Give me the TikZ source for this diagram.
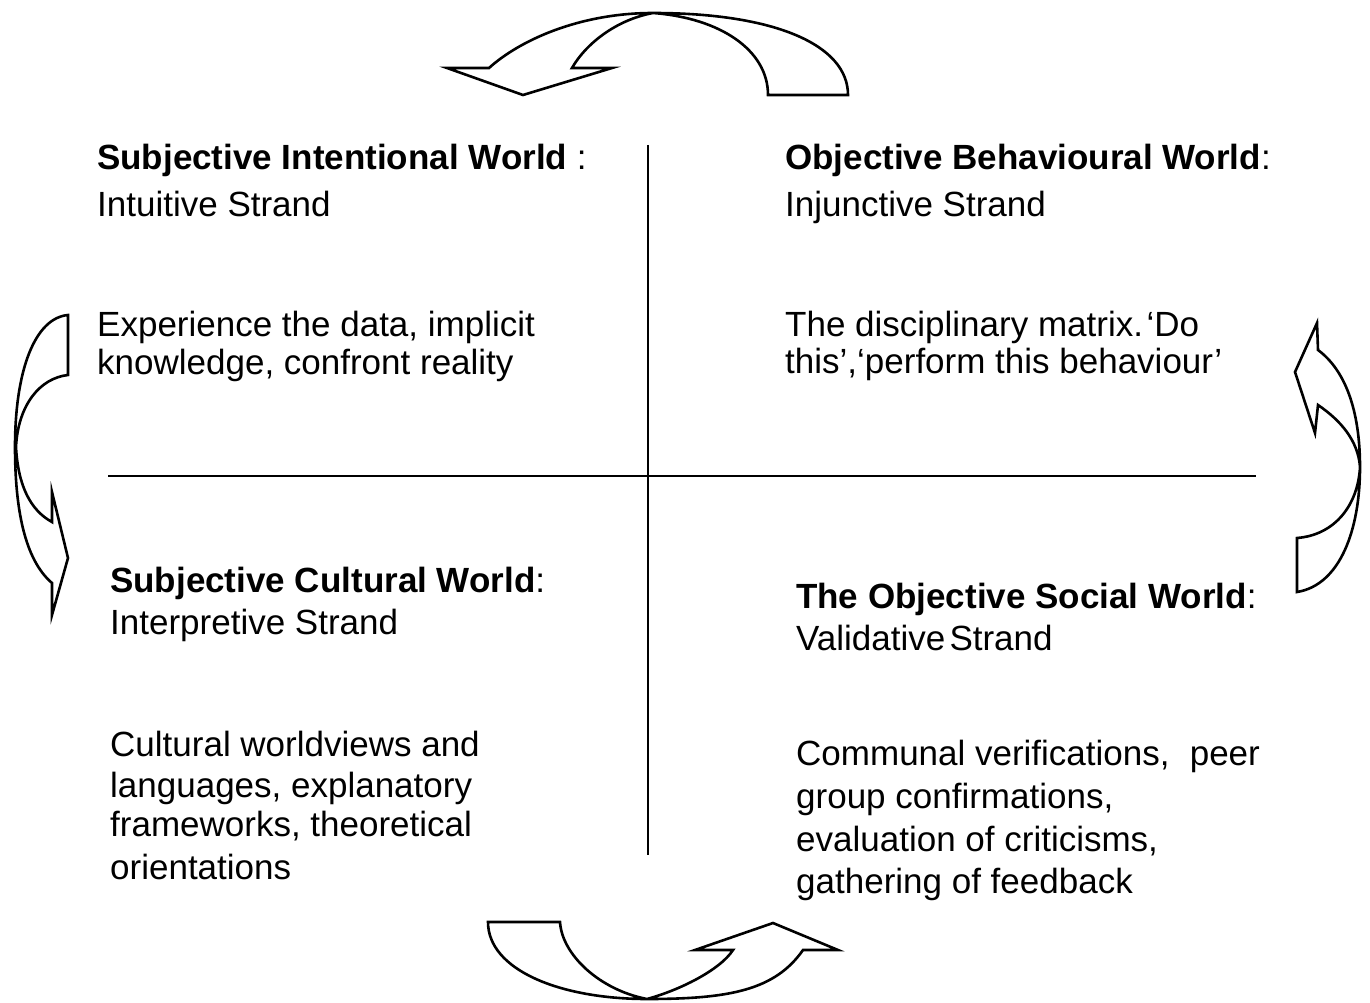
\documentclass[tikz,border=0pt]{standalone}
\usepackage{fontspec}
\setmainfont{Liberation Sans}
\begin{document}
\begin{tikzpicture}[x=1pt,y=-1pt,
  txt/.style={anchor=base west, inner sep=0pt, font=\fontsize{35}{42}\selectfont},
  axis/.style={draw=black, line width=1.8pt},
  bentarrow/.style={draw=black, fill=white, line width=2.6pt, line join=miter}]
\useasboundingbox (0,0) rectangle (1370,1003);

% axes
\coordinate (vtop) at (648,145);
\coordinate (vbot) at (648,855);
\coordinate (hl) at (108,476);
\coordinate (hr) at (1256,476);
\draw[axis] (vtop) -- (vbot);
\draw[axis] (hl) -- (hr);

% top curved arrow
\draw[bentarrow] (848,95) -- (768,95)
  .. controls (768,50) and (720,18) .. (653,13)
  .. controls (615,20) and (585,45) .. (572,68)
  -- (612,68) -- (523,95) -- (447,68) -- (489,68)
  .. controls (520,40) and (580,13) .. (653,13)
  .. controls (775,13) and (848,45) .. (848,95) -- cycle;

% bottom curved arrow
\draw[bentarrow] (488,922) -- (560,922)
  .. controls (562,955) and (600,990) .. (647,999)
  .. controls (680,990) and (720,970) .. (733,950)
  -- (695,950) -- (773,923) -- (838,950) -- (803,950)
  .. controls (775,990) and (730,999) .. (647,999)
  .. controls (560,999) and (488,970) .. (488,922) -- cycle;

% left curved arrow
\draw[bentarrow] (68,315) -- (68,375)
  .. controls (40,378) and (18,405) .. (16,447)
  .. controls (18,485) and (30,510) .. (52,522)
  -- (52,492) -- (68,558) -- (52,615) -- (52,583)
  .. controls (25,560) and (15,510) .. (15,447)
  .. controls (15,370) and (35,318) .. (68,315) -- cycle;

% right curved arrow
\draw[bentarrow] (1297,538) -- (1297,592)
  .. controls (1340,585) and (1360,530) .. (1360,467)
  .. controls (1360,410) and (1345,370) .. (1318,350)
  -- (1317,323) -- (1295,372) -- (1315,433) -- (1318,405)
  .. controls (1340,420) and (1358,440) .. (1360,467)
  .. controls (1358,505) and (1335,535) .. (1297,538) -- cycle;

% top left quadrant
\node[txt] (tlh) at (97,170) {\textbf{Subjective Intentional World} :};
\node[txt] (tls) at (97,217) {Intuitive Strand};
\node[txt] (tl1) at (97,336) {Experience the data, implicit};
\node[txt] (tl2) at (97,374) {knowledge, confront reality};

% top right quadrant
\node[txt] (trh) at (785,170) {\textbf{Objective Behavioural World}:};
\node[txt] (trs) at (785,217) {Injunctive Strand};
\node[txt] (tr1) at (785,336) {The disciplinary matrix.\hspace{0.1em}‘Do};
\node[txt] (tr2) at (785,373) {this’,‘perform this behaviour’};

% bottom left quadrant
\node[txt] (blh) at (110,592) {\textbf{Subjective Cultural World}:};
\node[txt] (bls) at (110,634) {Interpretive Strand};
\node[txt] (bl1) at (110,756) {Cultural worldviews and};
\node[txt] (bl2) at (110,797) {languages, explanatory};
\node[txt] (bl3) at (110,836) {frameworks, theoretical};
\node[txt] (bl4) at (110,879) {orientations};

% bottom right quadrant
\node[txt] (brh) at (796,608) {\textbf{The Objective Social World}:};
\node[txt] (brs) at (796,650) {Validative\hspace{0.12em}Strand};
\node[txt] (br1) at (796,765) {Communal verifications,\hspace{0.3em} peer};
\node[txt] (br2) at (796,808) {group confirmations,};
\node[txt] (br3) at (796,851) {evaluation of criticisms,};
\node[txt] (br4) at (796,893) {gathering of feedback};
\end{tikzpicture}
\end{document}
